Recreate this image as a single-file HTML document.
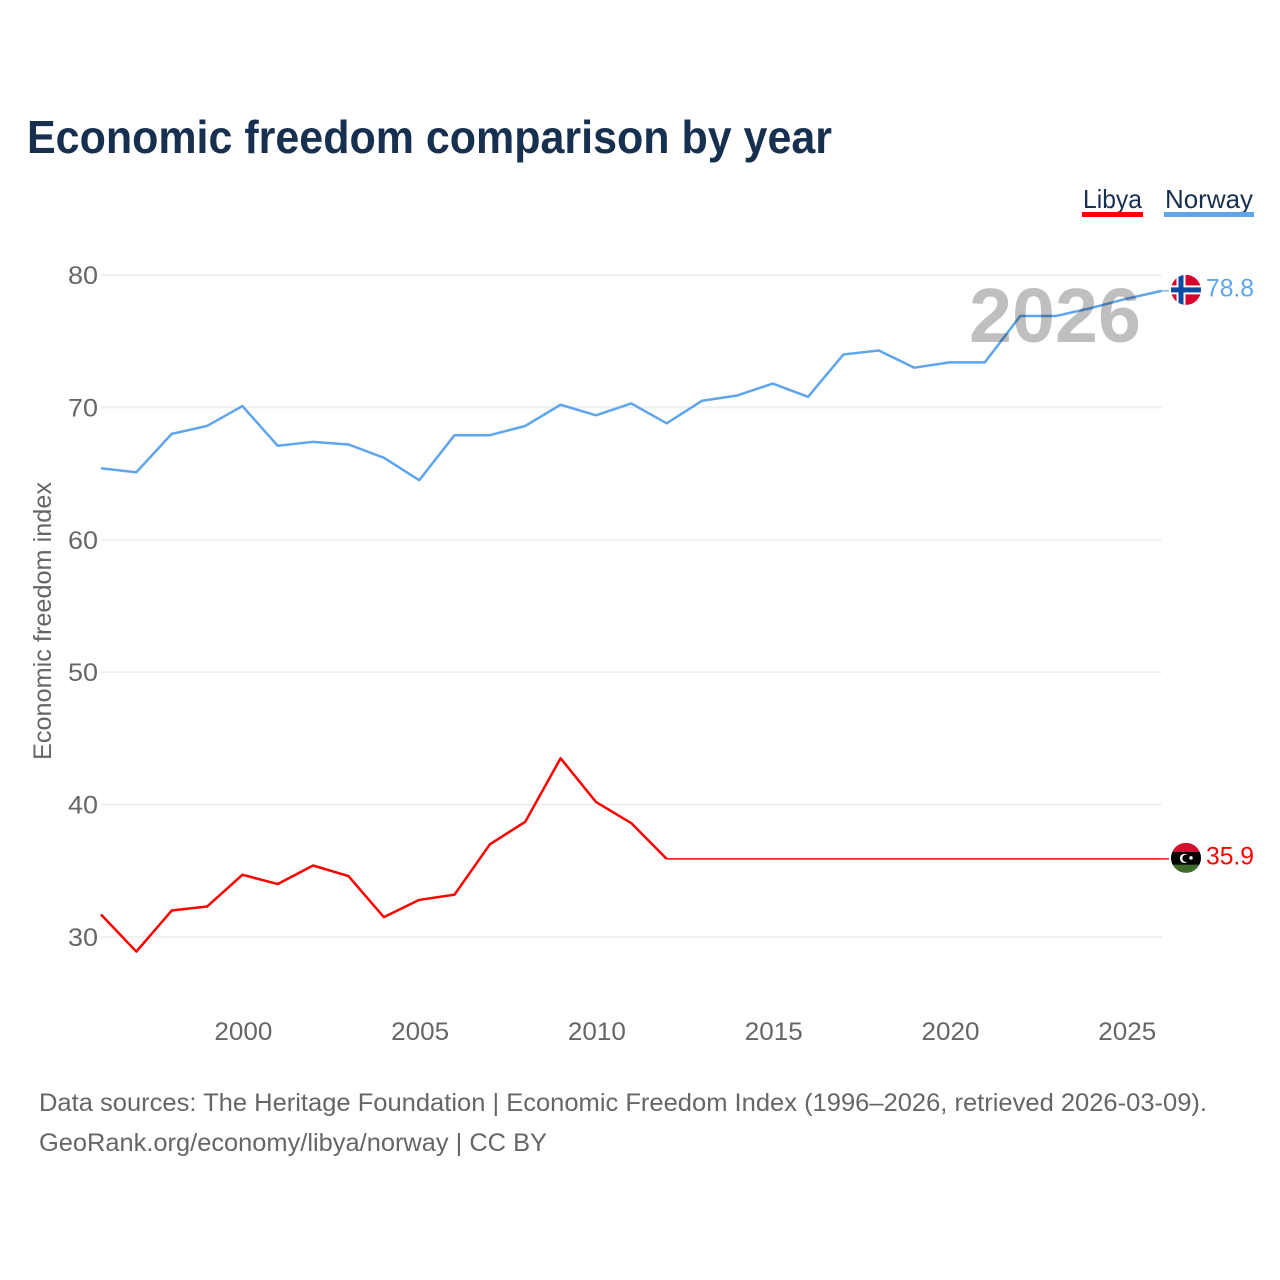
<!DOCTYPE html>
<html lang="en">
<head>
<meta charset="utf-8">
<title>Economic freedom comparison by year</title>
<style>
html,body{margin:0;padding:0;background:#fff}
svg{display:block}
text{font-family:"Liberation Sans",sans-serif}
</style>
</head>
<body>
<svg id="chart" xmlns="http://www.w3.org/2000/svg" width="1280" height="1280" viewBox="0 0 1280 1280">
  <defs>
    <clipPath id="flag-clip"><circle cx="0" cy="0" r="15"/></clipPath>
  </defs>
  <rect x="0" y="0" width="1280" height="1280" fill="#fff"/>
  <text x="27" y="153" font-size="46" font-weight="700" fill="#18304f" textLength="805" lengthAdjust="spacingAndGlyphs">Economic freedom comparison by year</text>

  <g>
    <text x="1083" y="208" font-size="26" fill="#18304f" textLength="59" lengthAdjust="spacingAndGlyphs">Libya</text>
    <rect x="1082" y="212" width="61" height="5" fill="#ff0000"/>
  </g>
  <g>
    <text x="1165" y="208" font-size="26" fill="#18304f" textLength="88" lengthAdjust="spacingAndGlyphs">Norway</text>
    <rect x="1164" y="212" width="90" height="5" fill="#5fa5ec"/>
  </g>

  <g id="grid"></g>
  <g id="y-ticks"></g>
  <g id="x-ticks"></g>
  <text transform="translate(51,760) rotate(-90)" x="0" y="0" font-size="25" fill="#666" textLength="278" lengthAdjust="spacingAndGlyphs">Economic freedom index</text>

  <g id="series"></g>
  <text id="year-watermark" x="969" y="342" font-size="77" font-weight="700" fill="#000" fill-opacity="0.25" textLength="172" lengthAdjust="spacingAndGlyphs">2026</text>

  <g id="flag-norway">
    <g clip-path="url(#flag-clip)">
      <rect x="-15" y="-15" width="30" height="30" fill="#d8002c"/>
      <rect x="-9.5" y="-15" width="9" height="30" fill="#fff"/>
      <rect x="-15" y="-4.5" width="30" height="9" fill="#fff"/>
      <rect x="-7.5" y="-15" width="5" height="30" fill="#0a4a9f"/>
      <rect x="-15" y="-2.5" width="30" height="5" fill="#0a4a9f"/>
    </g>
  </g>
  <g id="flag-libya">
    <g clip-path="url(#flag-clip)">
      <rect x="-15" y="-15" width="30" height="9" fill="#d0102c"/>
      <rect x="-15" y="-6" width="30" height="13" fill="#000"/>
      <rect x="-15" y="7" width="30" height="8" fill="#3f6b2a"/>
      <circle cx="-1.5" cy="0.5" r="4.6" fill="#fff"/>
      <circle cx="0" cy="0.5" r="3.7" fill="#000"/>
      <circle cx="5" cy="0" r="1.7" fill="#fff"/>
    </g>
  </g>
  <text id="value-norway" font-size="25" fill="#5fa5ec" textLength="48" lengthAdjust="spacingAndGlyphs"></text>
  <text id="value-libya" font-size="25" fill="#ff0000" textLength="48" lengthAdjust="spacingAndGlyphs"></text>

  <text x="39" y="1111" font-size="25" fill="#666" textLength="1168" lengthAdjust="spacingAndGlyphs">Data sources: The Heritage Foundation | Economic Freedom Index (1996–2026, retrieved 2026-03-09).</text>
  <a><text x="39" y="1151" font-size="25" fill="#666" textLength="508" lengthAdjust="spacingAndGlyphs">GeoRank.org/economy/libya/norway | CC BY</text></a>
</svg>
<script>
const years = [1996,1997,1998,1999,2000,2001,2002,2003,2004,2005,2006,2007,2008,2009,2010,2011,2012,2013,2014,2015,2016,2017,2018,2019,2020,2021,2022,2023,2024,2025,2026];
const norwayValues = [65.4,65.1,68.0,68.6,70.1,67.1,67.4,67.2,66.2,64.5,67.9,67.9,68.6,70.2,69.4,70.3,68.8,70.5,70.9,71.8,70.8,74.0,74.3,73.0,73.4,73.4,76.9,76.9,77.5,78.2,78.8];
const libyaValues = [31.7,28.9,32.0,32.3,34.7,34.0,35.4,34.6,31.5,32.8,33.2,37.0,38.7,43.5,40.2,38.6,35.9,35.9,35.9,35.9,35.9,35.9,35.9,35.9,35.9,35.9,35.9,35.9,35.9,35.9,35.9];
const libyaLastMeasuredYear = 2012;
const yTickValues = [30,40,50,60,70,80];
const xTickValues = [2000,2005,2010,2015,2020,2025];

const NS = 'http://www.w3.org/2000/svg';
const xLeft = 101, xRight = 1161.6, yAt80 = 275, yAt30 = 937;
function xScale(year) { return xLeft + (year - years[0]) * (xRight - xLeft) / (years[years.length - 1] - years[0]); }
function yScale(v) { return yAt80 + (80 - v) * (yAt30 - yAt80) / 50; }
function make(tag, attrs, parent) {
  const el = document.createElementNS(NS, tag);
  for (const k in attrs) el.setAttribute(k, attrs[k]);
  parent.appendChild(el);
  return el;
}
function pathFrom(xs, vs) {
  return xs.map((yr, i) => (i ? 'L' : 'M') + xScale(yr).toFixed(2) + ' ' + yScale(vs[i]).toFixed(2)).join('');
}

const grid = document.getElementById('grid');
const yT = document.getElementById('y-ticks');
const xT = document.getElementById('x-ticks');
const series = document.getElementById('series');

yTickValues.forEach(v => {
  const line = make('line', {x1: xLeft, x2: xRight, y1: yScale(v), y2: yScale(v), stroke: '#eeeeee', 'stroke-width': 1.7}, grid);
  
  
  const t = make('text', {x: 68, y: yScale(v) + 9, 'font-size': 25, fill: '#666', textLength: 30, lengthAdjust: 'spacingAndGlyphs'}, yT);
  t.textContent = v;
  
  
});

xTickValues.forEach(v => {
  const t = make('text', {x: xScale(v) + 1, y: 1040, 'font-size': 25, fill: '#666', 'text-anchor': 'middle', textLength: 58, lengthAdjust: 'spacingAndGlyphs'}, xT);
  t.textContent = v;
  
  
});

const common = {fill: 'none', 'stroke-linejoin': 'round'};

const norwayLine = make('path', Object.assign({d: pathFrom(years, norwayValues), stroke: '#5fa5ec', 'stroke-width': 2.5}, common), series);



const splitIndex = years.indexOf(libyaLastMeasuredYear);
const libyaLine = make('path', Object.assign({d: pathFrom(years.slice(0, splitIndex + 1), libyaValues.slice(0, splitIndex + 1)), stroke: '#ff0000', 'stroke-width': 2.5}, common), series);



const libyaCarry = make('path', Object.assign({d: pathFrom(years.slice(splitIndex), libyaValues.slice(splitIndex)), stroke: '#ff0000', 'stroke-width': 1.4}, common), series);



const lastNorway = norwayValues[norwayValues.length - 1];
const lastLibya = libyaValues[libyaValues.length - 1];

const norwayConnector = make('line', {x1: xRight, x2: 1169, y1: yScale(lastNorway), y2: yScale(lastNorway), stroke: '#5fa5ec', 'stroke-width': 1.2}, series);



const libyaConnector = make('line', {x1: xRight, x2: 1169, y1: yScale(lastLibya), y2: yScale(lastLibya), stroke: '#ff0000', 'stroke-width': 1.4}, series);



document.getElementById('flag-norway').setAttribute('transform', 'translate(1186,' + (yScale(lastNorway) - 1) + ')');
document.getElementById('flag-libya').setAttribute('transform', 'translate(1186,' + (yScale(lastLibya) - 1) + ')');

const vN = document.getElementById('value-norway');
vN.setAttribute('x', 1206);
vN.setAttribute('y', yScale(lastNorway) + 5.5);
vN.textContent = lastNorway.toFixed(1);

const vL = document.getElementById('value-libya');
vL.setAttribute('x', 1206);
vL.setAttribute('y', yScale(lastLibya) + 5.5);
vL.textContent = lastLibya.toFixed(1);

document.getElementById('year-watermark').textContent = years[years.length - 1];
</script>
</body>
</html>
